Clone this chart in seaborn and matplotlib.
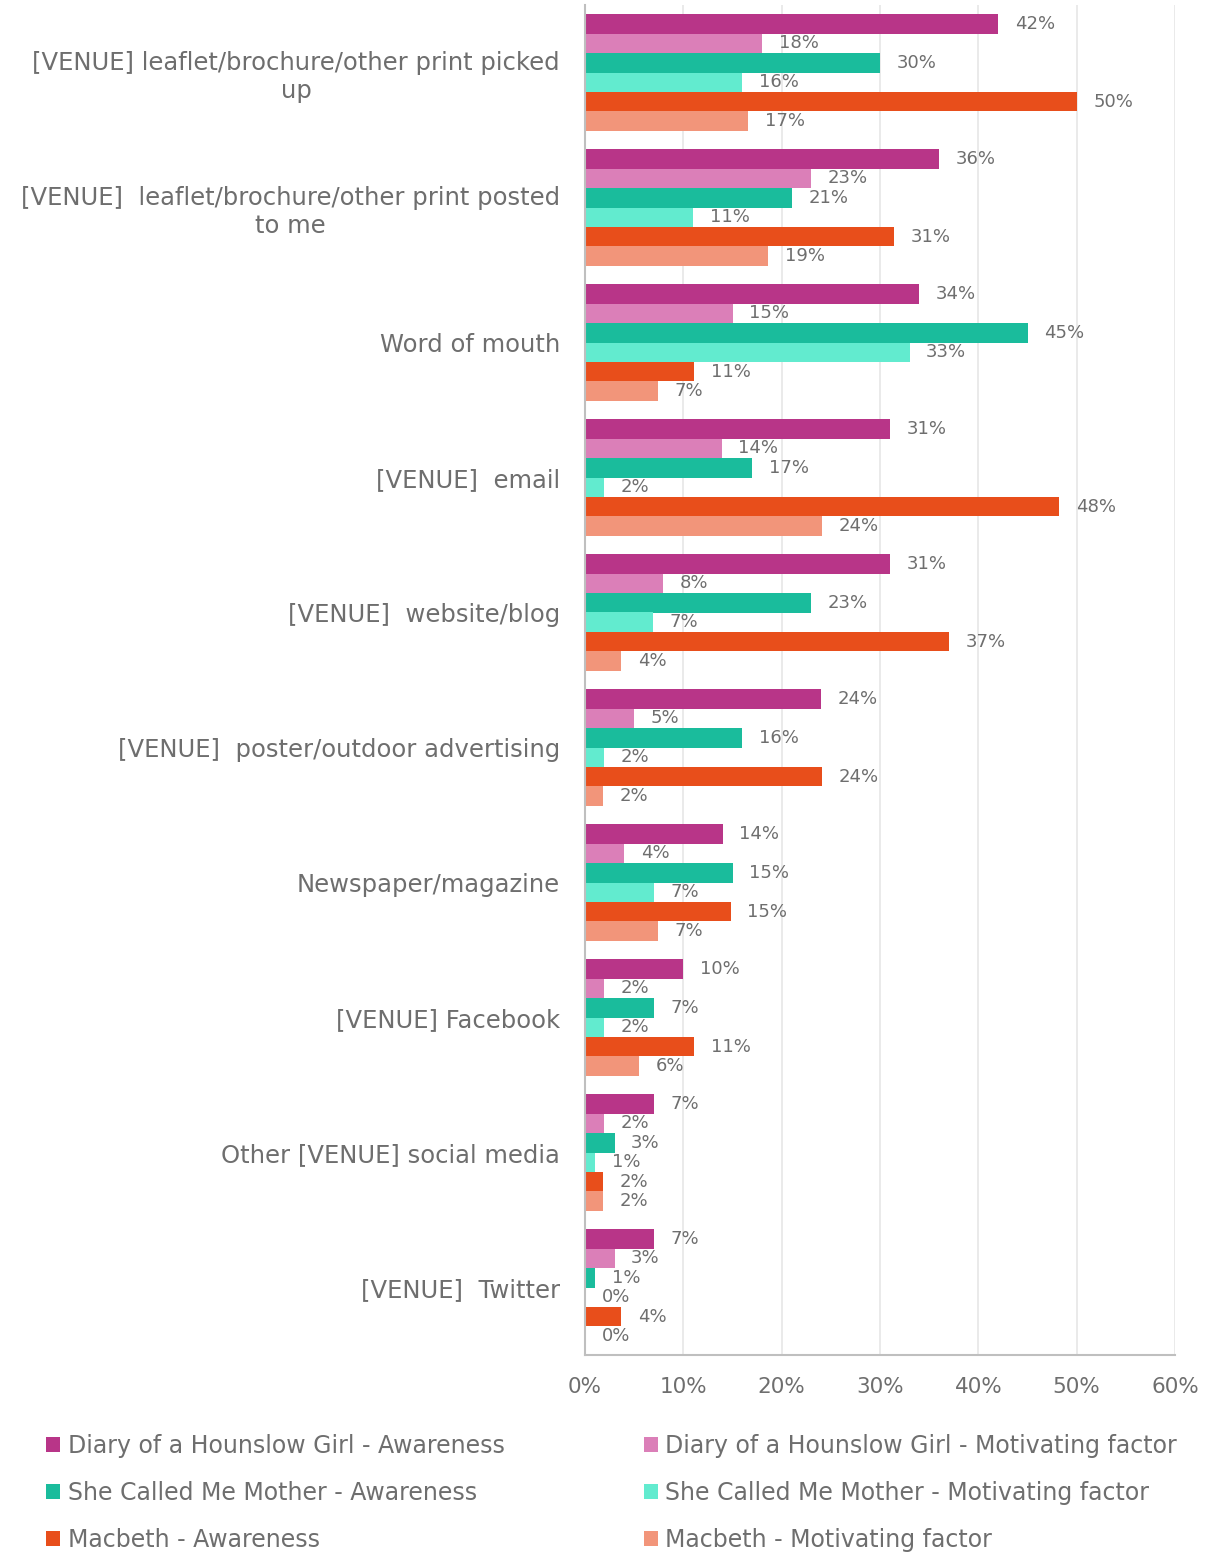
import numpy as np
import pandas as pd
import matplotlib
matplotlib.use("Agg")
import matplotlib.pyplot as plt
from matplotlib.patches import Patch
import seaborn as sns

# categories top to bottom
categories = [
    "[VENUE] leaflet/brochure/other print picked\nup",
    "[VENUE]  leaflet/brochure/other print posted\nto me",
    "Word of mouth",
    "[VENUE]  email",
    "[VENUE]  website/blog",
    "[VENUE]  poster/outdoor advertising",
    "Newspaper/magazine",
    "[VENUE] Facebook",
    "Other [VENUE] social media",
    "[VENUE]  Twitter",
]

series = [
    "Diary of a Hounslow Girl - Awareness",
    "Diary of a Hounslow Girl - Motivating factor",
    "She Called Me Mother - Awareness",
    "She Called Me Mother - Motivating factor",
    "Macbeth - Awareness",
    "Macbeth - Motivating factor",
]

# values in percent, one list per series
diary_aware = [42, 36, 34, 31, 31, 24, 14, 10, 7, 7]
diary_motiv = [18, 23, 15, 13.9, 7.9, 5, 4, 1.9, 1.9, 3]
mother_aware = [30, 21, 45, 17, 23, 16, 15, 7, 3, 1]
mother_motiv = [16, 11, 33, 1.9, 6.9, 1.9, 7, 1.9, 1, 0]
macbeth_aware = [50, 31.4, 11.1, 48.2, 37, 24.1, 14.8, 11.1, 1.85, 3.7]
macbeth_motiv = [16.6, 18.6, 7.4, 24.1, 3.7, 1.85, 7.4, 5.5, 1.85, 0]

colors = ["#B83588", "#DB7FB8", "#1ABC9C", "#62EBCF", "#E84E1B", "#F2957A"]

values = [diary_aware, diary_motiv, mother_aware, mother_motiv, macbeth_aware, macbeth_motiv]
rows = []
for s, vals in zip(series, values):
    for c, v in zip(categories, vals):
        rows.append({"Category": c, "Series": s, "Value": v})
df = pd.DataFrame(rows)

sns.set_theme(style="white")
plt.rcParams["font.family"] = ["DejaVu Sans"]
grey = "#6E6E6E"

fig = plt.figure(figsize=(12.06, 15.52), dpi=100)
ax = fig.add_axes([585 / 1206, 1 - 1355 / 1552, 590 / 1206, 1350 / 1552])

sns.barplot(data=df, y="Category", x="Value", hue="Series", hue_order=series,
            order=categories, palette=colors, orient="h", width=0.86,
            linewidth=0, saturation=1, ax=ax, legend=False)

# value labels next to each bar
for cont in ax.containers:
    for bar in cont:
        w = bar.get_width()
        yc = bar.get_y() + bar.get_height() / 2
        ax.annotate(f"{w:.0f}%", (w, yc), xytext=(12, 0), textcoords="offset points",
                    ha="left", va="center", fontsize=13, color=grey)

ax.set_xlim(0, 60)
ax.set_ylim(len(categories) - 0.5, -0.5)
ax.set_xticks(range(0, 61, 10))
ax.set_xticklabels([f"{t}%" for t in range(0, 61, 10)])
ax.tick_params(axis="x", labelsize=15.5, colors=grey, length=0, pad=16)
ax.tick_params(axis="y", labelsize=17.5, colors=grey, length=0, pad=18)
for lab in ax.get_yticklabels():
    lab.set_multialignment("center")
ax.set_xlabel("")
ax.set_ylabel("")
ax.grid(axis="x", color="#E6E6E6", linewidth=1.2)
ax.set_axisbelow(True)
for side in ["top", "right"]:
    ax.spines[side].set_visible(False)
for side in ["left", "bottom"]:
    ax.spines[side].set_color("#BFBFBF")
    ax.spines[side].set_linewidth(1.5)

# legend filled row by row
order = [0, 2, 4, 1, 3, 5]
handles = [Patch(facecolor=colors[i], edgecolor="none") for i in order]
labels = [series[i] for i in order]
fig.legend(handles, labels, loc="upper left", bbox_to_anchor=(25 / 1206, 1 - 1413 / 1552),
           ncol=2, frameon=False, fontsize=17, labelcolor=grey,
           handlelength=0.6, handleheight=0.6, handletextpad=0.3,
           columnspacing=5.9, labelspacing=0.97)

fig.savefig("out.png", dpi=100)
